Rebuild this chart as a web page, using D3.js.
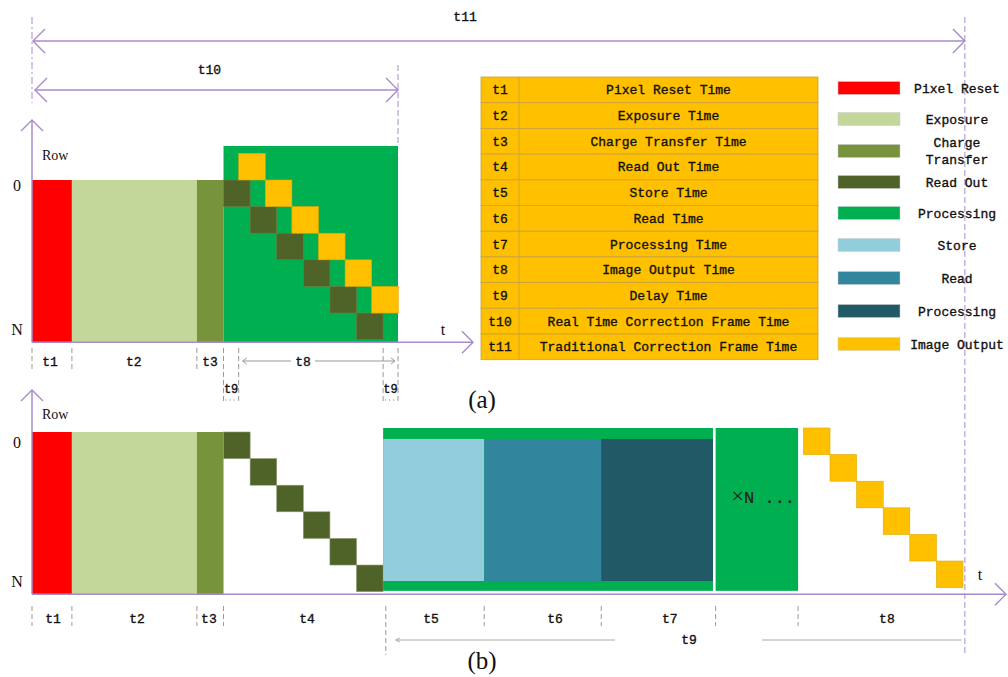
<!DOCTYPE html>
<html><head><meta charset="utf-8">
<script src="https://cdn.jsdelivr.net/npm/d3@7"></script>
<style>body{margin:0;background:#fff}svg{display:block}</style>
</head><body>
<svg id="c" width="1008" height="677"></svg>
<script>
// ---------- data (time in readout-step units, rows in row units) ----------
const stageNames = ["Pixel Reset", "Exposure", "Charge Transfer"];
const stageStart = [0, 1.5, 6.2];
const stageEnd = [1.5, 6.2, 7.2];
const readoutRows = [0, 1, 2, 3, 4, 5];
const readoutStart = 7.2;
const outputRowsA = [-1, 0, 1, 2, 3, 4];
const outputStartA = 7.77;
const processingA = [7.2, 13.76];
const processingTopA = -1.28;
const bPhaseNames = ["Store", "Read", "Processing"];
const bPhaseStart = [13.2, 17.0, 21.4];
const bPhaseEnd = [17.0, 21.4, 25.6];
const repeatBlock = [25.7, 28.8];
const repeatSymbol = "×";
const repeatText = "N ...";
const outputRowsB = [-0.15, 0.85, 1.85, 2.85, 3.85, 4.85];
const outputStartB = 29.0;
const t10Span = [0, 13.76];
const t11Span = [0, 35.07];

const labelsA = ["t1", "t2", "t3", "t8"];
const labelTimesA = [0.68, 3.83, 6.69, 10.19];
const sepA = [0, 1.5, 6.2, 7.2, 7.77, 13.2, 13.76];
const sepLongA = [7.2, 7.77, 13.2, 13.76];
const delayLabelsA = [[7.2, 7.77], [13.2, 13.76]];

const labelsB = ["t1", "t2", "t3", "t4", "t5", "t6", "t7", "t8"];
const labelTimesB = [0.79, 3.95, 6.65, 10.34, 15.0, 19.66, 23.98, 32.14];
const sepB = [0, 1.5, 6.2, 7.2, 13.3, 17.0, 21.4, 25.7, 28.8];
const t9B = [13.3, 24.7, 34.95];

const tableCodes = ["t1","t2","t3","t4","t5","t6","t7","t8","t9","t10","t11"];
const tableDescs = ["Pixel Reset Time","Exposure Time","Charge Transfer Time","Read Out Time",
  "Store Time","Read Time","Processing Time","Image Output Time","Delay Time",
  "Real Time Correction Frame Time","Traditional Correction Frame Time"];
const legendLabels = ["Pixel Reset","Exposure","Charge\nTransfer","Read Out","Processing",
  "Store","Read","Processing","Image Output"];

// ---------- styles ----------
const C = {reset:"#FF0000", exposure:"#C4D79B", charge:"#77933C", readout:"#4F6228",
  proc:"#00B050", store:"#92CDDC", read:"#31859C", procDark:"#215967", output:"#FFC000"};
const stageColors = [C.reset, C.exposure, C.charge];
const bColors = [C.store, C.read, C.procDark];
const legendColors = [C.reset, C.exposure, C.charge, C.readout, C.proc, C.store, C.read, C.procDark, C.output];
const purple = "#A78BCB";
const mono = "'Liberation Mono', monospace";
const serif = "'Liberation Serif', 'Times New Roman', serif";

const svg = d3.select("#c");
const x = d3.scaleLinear().domain([0, 36]).range([32, 32 + 36 * 26.6]);
const yA = d3.scaleLinear().domain([0, 6.1]).range([180, 342.3]);
const yB = d3.scaleLinear().domain([0, 6.1]).range([432, 594.3]);
const u = x(1) - x(0);

function chevron(g, tipX, tipY, dir, s = 11) {
  let p;
  if (dir === "right") p = [[tipX - s, tipY - s], [tipX, tipY], [tipX - s, tipY + s]];
  if (dir === "left") p = [[tipX + s, tipY - s], [tipX, tipY], [tipX + s, tipY + s]];
  if (dir === "up") p = [[tipX - s, tipY + s], [tipX, tipY], [tipX + s, tipY + s]];
  g.append("path").attr("d", d3.line()(p)).attr("fill", "none").attr("stroke", purple).attr("stroke-width", 1.4);
}
function hline(g, x1, x2, yv, col = purple, w = 1.5, dash = null) {
  const l = g.append("line").attr("x1", x1).attr("x2", x2).attr("y1", yv).attr("y2", yv)
    .attr("stroke", col).attr("stroke-width", w);
  if (dash) l.attr("stroke-dasharray", dash);
}
function vline(g, xv, y1, y2, col = "#999", w = 1, dash = "5,3") {
  const l = g.append("line").attr("x1", xv).attr("x2", xv).attr("y1", y1).attr("y2", y2)
    .attr("stroke", col).attr("stroke-width", w);
  if (dash) l.attr("stroke-dasharray", dash);
}
function txt(g, s, tx, ty, size, font = mono, anchor = "middle") {
  const t = g.append("text").attr("x", tx).attr("y", ty).attr("font-size", size)
    .attr("font-family", font).attr("text-anchor", anchor).attr("fill", "#111").text(s);
  if (font === mono) t.attr("stroke", "#111").attr("stroke-width", 0.35);
  return t;
}

// ---------- top spans t11, t10 ----------
const gTop = svg.append("g");
vline(gTop, x(t11Span[0]), 17, 103, purple, 1, "7,3,2,3");
vline(gTop, x(t10Span[1]), 65, 146, purple, 1, "6,3");
vline(gTop, x(t11Span[1]), 17, 655, purple, 1, "6,3");
hline(gTop, x(t11Span[0]) + 1, x(t11Span[1]), 41);
chevron(gTop, x(t11Span[0]) + 1, 41, "left", 12);
chevron(gTop, x(t11Span[1]), 41, "right", 12);
txt(gTop, "t11", x(16.28), 21, 13);
hline(gTop, x(t10Span[0]) + 3, x(t10Span[1]), 90);
chevron(gTop, x(t10Span[0]) + 3, 90, "left", 12);
chevron(gTop, x(t10Span[1]), 90, "right", 12);
txt(gTop, "t10", x(6.67), 74, 13);

// ---------- diagram (a) ----------
const ga = svg.append("g");
ga.selectAll("rect.stage").data(stageNames).join("rect")
  .attr("x", (d, i) => x(stageStart[i])).attr("width", (d, i) => x(stageEnd[i]) - x(stageStart[i]))
  .attr("y", yA(0)).attr("height", yA(6.1) - yA(0)).attr("fill", (d, i) => stageColors[i]);
ga.append("rect").attr("x", x(processingA[0])).attr("width", x(processingA[1]) - x(processingA[0]))
  .attr("y", yA(processingTopA)).attr("height", yA(6.1) - yA(processingTopA)).attr("fill", C.proc);
ga.selectAll("rect.ro").data(readoutRows).join("rect")
  .attr("x", (r, i) => x(readoutStart + i)).attr("y", r => yA(r)).attr("width", u).attr("height", u)
  .attr("fill", C.readout).attr("stroke", "#6f7f4a").attr("stroke-width", 0.6);
ga.selectAll("rect.oa").data(outputRowsA).join("rect")
  .attr("x", (r, i) => x(outputStartA + i)).attr("y", r => yA(r)).attr("width", u).attr("height", u)
  .attr("fill", C.output).attr("stroke", "#e0a800").attr("stroke-width", 0.6);
// axes
vline(ga, 32, 121, yA(6.1), purple, 1.5, null);
chevron(ga, 32, 120, "up", 11);
hline(ga, 32, 472, yA(6.1));
chevron(ga, 473, yA(6.1), "right", 11);
txt(ga, "Row", 42, 160, 14, serif, "start");
txt(ga, "0", 17, 191, 16, serif);
txt(ga, "N", 17, 335, 16, serif);
txt(ga, "t", 443, 335, 16, serif);
// separators and labels
sepA.forEach(s => vline(ga, x(s), 348, sepLongA.includes(s) ? 402 : 372));
labelsA.forEach((l, i) => txt(ga, l, x(labelTimesA[i]), 366, 13));
// t8 span line
hline(ga, x(outputStartA) + 4, x(labelTimesA[3]) - 12, 361, "#999", 1);
hline(ga, x(labelTimesA[3]) + 12, x(processingA[1]) - 3, 361, "#999", 1);
ga.append("path").attr("d", d3.line()([[x(outputStartA)+8, 358],[x(outputStartA)+4, 361],[x(outputStartA)+8, 364]])).attr("fill","none").attr("stroke","#999");
ga.append("path").attr("d", d3.line()([[x(processingA[1])-7, 358],[x(processingA[1])-3, 361],[x(processingA[1])-7, 364]])).attr("fill","none").attr("stroke","#999");
delayLabelsA.forEach(([a, b]) => {
  txt(ga, "t9", (x(a) + x(b)) / 2, 393, 12);
  hline(ga, x(a) + 2, x(b) - 2, 400, "#777", 1, "1,3");
});
txt(ga, "(a)", 482, 408, 25, serif);

// ---------- table ----------
const tb = svg.append("g");
const tx0 = 481, tx1 = 519, tx2 = 818, ty0 = 77, rowH = 25.7;
tb.selectAll("rect.row").data(tableCodes).join("rect")
  .attr("x", tx0).attr("y", (d, i) => ty0 + i * rowH).attr("width", tx2 - tx0).attr("height", rowH)
  .attr("fill", C.output).attr("stroke", "#C9A13C").attr("stroke-width", 0.8);
vline(tb, tx1, ty0, ty0 + rowH * tableCodes.length, "#C9A13C", 0.8, null);
tableCodes.forEach((c, i) => {
  txt(tb, c, (tx0 + tx1) / 2, ty0 + i * rowH + rowH / 2 + 4.5, 13);
  txt(tb, tableDescs[i], (tx1 + tx2) / 2, ty0 + i * rowH + rowH / 2 + 4.5, 13);
});

// ---------- legend ----------
const lg = svg.append("g");
const legY = [88, 119, 151, 182, 213, 245, 278, 311, 344];
legendLabels.forEach((l, i) => {
  lg.append("rect").attr("x", 838).attr("y", legY[i] - 6.5).attr("width", 62).attr("height", 13)
    .attr("fill", legendColors[i]).attr("stroke", "#ccc").attr("stroke-width", 0.5);
  const lines = l.split("\n");
  lines.forEach((s, j) => txt(lg, s, 957, legY[i] + 4.5 + (j - (lines.length - 1) / 2) * 17, 13));
});

// ---------- diagram (b) ----------
const gb = svg.append("g");
gb.selectAll("rect.stage").data(stageNames).join("rect")
  .attr("x", (d, i) => x(stageStart[i])).attr("width", (d, i) => x(stageEnd[i]) - x(stageStart[i]))
  .attr("y", yB(0)).attr("height", yB(6.1) - yB(0)).attr("fill", (d, i) => stageColors[i]);
gb.selectAll("rect.ro").data(readoutRows).join("rect")
  .attr("x", (r, i) => x(readoutStart + i)).attr("y", r => yB(r)).attr("width", u).attr("height", u)
  .attr("fill", C.readout).attr("stroke", "#8e9c70").attr("stroke-width", 0.6);
// processing frame
gb.append("rect").attr("x", x(bPhaseStart[0])).attr("width", x(bPhaseEnd[2]) - x(bPhaseStart[0]))
  .attr("y", yB(-0.15)).attr("height", yB(5.97) - yB(-0.15)).attr("fill", C.proc);
gb.selectAll("rect.ph").data(bPhaseNames).join("rect")
  .attr("x", (d, i) => x(bPhaseStart[i])).attr("width", (d, i) => x(bPhaseEnd[i]) - x(bPhaseStart[i]))
  .attr("y", yB(0.26)).attr("height", yB(5.6) - yB(0.26)).attr("fill", (d, i) => bColors[i]);
gb.append("rect").attr("x", x(repeatBlock[0])).attr("width", x(repeatBlock[1]) - x(repeatBlock[0]))
  .attr("y", yB(-0.15)).attr("height", yB(5.97) - yB(-0.15)).attr("fill", C.proc);
const rt = gb.append("text").attr("x", x(repeatBlock[0]) + 16).attr("y", 503).attr("fill", "#222");
rt.append("tspan").attr("font-family", serif).attr("font-size", 22).text(repeatSymbol);
rt.append("tspan").attr("font-family", mono).attr("font-size", 17).attr("stroke", "#222").attr("stroke-width", 0.2).text(repeatText);
gb.selectAll("rect.ob").data(outputRowsB).join("rect")
  .attr("x", (r, i) => x(outputStartB + i)).attr("y", r => yB(r)).attr("width", u).attr("height", u)
  .attr("fill", C.output).attr("stroke", "#e0a800").attr("stroke-width", 0.6);
// axes
vline(gb, 32, 391, yB(6.1), purple, 1.5, null);
chevron(gb, 32, 390, "up", 11);
hline(gb, 32, 1005, yB(6.1));
chevron(gb, 1006, yB(6.1), "right", 11);
txt(gb, "Row", 42, 419, 14, serif, "start");
txt(gb, "0", 17, 448, 16, serif);
txt(gb, "N", 17, 587, 16, serif);
txt(gb, "t", 980, 580, 16, serif);
sepB.forEach(s => vline(gb, x(s), 606, s === 13.3 ? 655 : 626));
labelsB.forEach((l, i) => txt(gb, l, x(labelTimesB[i]), 623, 13));
// t9 span
hline(gb, x(t9B[0]) + 10, x(t9B[1]) - 74, 640, "#aaa", 1);
gb.append("path").attr("d", d3.line()([[x(t9B[0])+14, 638],[x(t9B[0])+10, 640],[x(t9B[0])+14, 642]])).attr("fill","none").attr("stroke","#aaa");
hline(gb, x(t9B[1]) + 73, x(t9B[2]), 640, "#aaa", 1);
txt(gb, "t9", x(t9B[1]), 644, 13);
txt(gb, "(b)", 482, 669, 25, serif);
</script>
</body></html>
